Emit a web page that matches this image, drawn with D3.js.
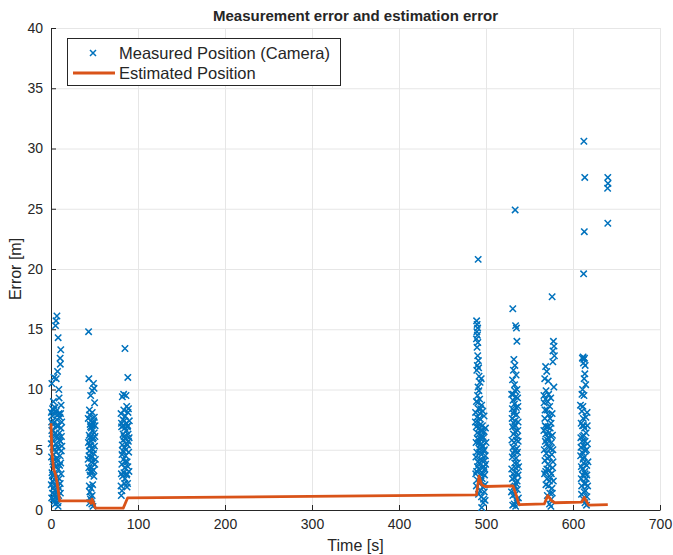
<!DOCTYPE html>
<html>
<head>
<meta charset="utf-8">
<script src="https://cdn.jsdelivr.net/npm/d3@7"></script>
<style>
  body { margin: 0; background: #fff; }
  text { font-family: "Liberation Sans", Arial, Helvetica, sans-serif; fill: #262626; }
</style>
</head>
<body>
<div id="chart"></div>
<script>
  var width = 673;
  var height = 555;

  // axis ticks
  var xTicks = [0, 100, 200, 300, 400, 500, 600, 700];
  var yTicks = [0, 5, 10, 15, 20, 25, 30, 35, 40];

  // measured position error [time s, error m]
  var measured1 = [[0.4,8.1],[0.9,6.6],[1.3,7.8],[1.8,8.4],[2.1,5.2],[0.6,4.4],[1.1,3.1],[1.6,2.4],[2.4,1.8],[2.9,2.9],[3.4,1.3],[3.8,0.7],[2.7,3.8],[3.2,6.2],[4.1,7.3],[4.6,8.5],[5.1,6.4],[5.7,4.8],[6.2,3.6],[6.6,2.3],[7.1,1.5],[7.7,0.6],[8.2,0.3],[8.8,1.2],[9.4,2.6],[9.9,3.7],[10.4,4.5],[10.9,5.7],[11.4,6.8],[10.1,7.7],[9.2,8.0],[8.5,6.0],[7.3,5.2],[6.4,7.0],[5.0,2.0],[4.3,1.6],[3.6,4.2],[2.5,0.9],[1.7,1.4],[0.3,2.1],[11.8,4.9],[11.6,3.0],[9.7,1.8],[8.9,5.1],[7.5,4.1],[6.8,7.5],[5.4,5.5],[4.7,3.6],[1.4,5.9],[2.2,7.1],[3.1,8.3],[0.8,1.0],[4.9,0.5],[6.0,1.1],[8.0,2.0],[10.6,2.2],[12.3,7.3],[12.0,6.1],[5.9,8.2],[7.9,7.9],[3.9,5.0],[2.0,4.0],
    [0.2,5.5],[1.9,2.9],[3.0,4.6],[4.4,2.5],[5.3,1.3],[6.3,4.3],[7.0,6.1],[8.4,3.4],[9.6,5.8],[10.8,1.4],[11.2,3.9],[12.5,5.3],[0.7,7.3],[2.6,6.6],[4.0,8.0],[5.6,3.0],[6.9,0.9],[8.7,7.0],[9.9,6.4],[11.0,8.0],
    [1.0,10.5],[3.5,11.0],[5.8,15.7],[6.8,16.1],[5.2,15.3],[8.2,14.3],[11.2,13.3],[10.5,12.6],[10.7,12.1],[7.5,11.5],[6.0,10.9],[9.0,10.0],[9.3,9.3],[2.8,9.0],[11.6,8.7]];
  var measured2 = [[43.2,14.8],[43.5,10.9],[45.6,9.5],[48.8,10.5],[49.5,10.1],[50.1,8.9],[47.5,9.9],
    [42.8,7.6],[43.9,6.2],[44.5,7.9],[45.2,5.4],[45.9,4.3],[46.4,6.8],[47.1,3.2],[47.8,5.9],[48.4,7.2],[49.0,4.7],[49.6,6.4],[50.3,3.8],[43.4,3.5],[44.1,4.9],[44.8,2.9],[46.0,7.4],[46.8,5.1],[47.4,8.1],[48.1,3.9],[48.7,6.0],[49.3,2.8],[50.0,5.3],[50.7,7.0],[43.0,5.6],[45.5,6.9],[47.0,4.4],[48.5,5.0],[46.3,3.5],[44.2,8.3],[49.8,7.7],[51.0,4.2],[45.0,7.1],[42.6,4.2],[47.6,6.6],
    [43.7,4.5],[44.9,6.0],[46.1,5.7],[47.3,7.0],[48.9,3.3],[50.5,6.1],[45.3,3.2],[49.1,7.4],[46.6,4.0],[44.3,5.3],
    [44.0,2.0],[44.7,1.5],[45.4,0.9],[46.2,1.8],[46.9,0.5],[47.3,1.2],[48.2,0.3],[45.8,1.1],[47.9,2.1],[44.4,0.6]];
  var measured3 = [[85.0,13.4],[88.3,11.0],[82.0,9.4],[83.5,9.6],[86.2,9.5],[87.0,8.6],[88.5,8.1],
    [80.5,8.0],[81.2,6.9],[81.9,5.4],[82.6,7.5],[83.3,4.2],[84.0,6.1],[84.7,3.5],[85.4,7.8],[86.1,5.0],[86.8,6.6],[87.5,4.0],[88.2,7.0],[88.9,5.7],[89.6,3.2],[80.9,3.0],[81.6,4.6],[82.3,2.8],[83.0,6.3],[83.7,8.3],[84.4,5.2],[85.1,2.6],[85.8,4.5],[86.5,7.2],[87.2,3.0],[87.9,5.4],[88.6,6.3],[89.3,4.8],[90.0,7.4],[84.9,6.8],[82.9,5.8],[86.9,2.9],[81.0,7.2],[89.0,8.4],[83.8,3.1],[85.6,5.9],
    [81.4,3.8],[82.7,4.9],[84.2,7.4],[85.3,4.0],[86.7,5.5],[87.7,6.9],[89.8,6.0],[83.1,7.0],[88.4,3.6],[84.6,2.2],
    [80.5,2.0],[80.8,1.2],[81.5,1.6],[88.0,2.2],[87.4,1.9]];
  var measured4 = [[491.0,20.8],
    [489.2,15.7],[489.8,15.4],[490.4,15.1],[489.5,14.8],[490.1,14.5],[489.0,14.2],[490.6,13.9],[489.7,13.5],
    [490.5,12.8],[491.2,12.4],[490.0,12.0],[489.4,11.6],[491.5,11.8],
    [492.0,11.1],[494.5,10.9],[493.2,10.6],[491.8,9.9],[490.3,9.5],[492.7,9.2],[495.0,8.7],
    [488.0,8.1],[488.8,6.9],[489.6,7.7],[490.4,5.9],[491.2,8.4],[492.0,6.3],[492.8,4.8],[493.6,7.1],[494.4,5.5],[495.2,6.6],[496.0,4.1],[496.8,5.3],[497.6,3.6],[498.4,2.9],[499.2,4.5],[488.4,4.4],[489.2,3.2],[490.0,2.5],[490.8,4.0],[491.6,3.4],[492.4,2.2],[493.2,1.6],[494.0,3.0],[494.8,1.1],[495.6,2.6],[496.4,1.9],[497.2,0.9],[498.0,1.5],[498.8,2.1],[499.6,3.8],[488.6,5.6],[489.9,6.4],[491.0,7.3],[492.3,5.1],[493.5,4.2],[494.7,6.1],[495.9,7.0],[497.0,6.0],[498.2,5.0],[499.4,6.8],[487.8,7.3],[490.7,8.9],[493.0,8.0],[496.3,8.2],[497.8,7.8],[495.3,3.5],[492.6,7.6],[494.2,2.4],[491.4,1.3],[496.9,0.6],[495.0,0.2],[493.8,5.9],[490.2,3.6],[488.9,2.0],[499.0,0.8],[497.4,4.9],
    [489.0,9.0],[490.9,10.2],[491.9,6.8],[493.4,5.4],[494.9,4.6],[496.5,3.0],[498.5,4.1],[489.5,4.8],[491.7,5.6],[493.9,8.4],[495.6,5.3],[497.9,6.5],[500.0,5.6],[488.2,3.0],[492.1,3.9],[494.1,6.6],[496.1,6.1],[498.6,3.4]];
  var measured5 = [[533.5,24.9],[530.8,16.7],[534.0,15.3],[535.0,15.1],[535.5,14.0],
    [532.0,12.5],[533.2,12.0],[531.5,11.6],[534.6,11.2],[530.5,10.8],[532.8,10.4],[535.6,10.0],
    [529.5,9.6],[530.3,8.4],[531.1,9.1],[531.9,7.2],[532.7,8.8],[533.5,6.5],[534.3,9.4],[535.1,7.9],[535.9,6.1],[536.7,8.6],[529.8,5.8],[530.6,6.9],[531.4,4.7],[532.2,5.6],[533.0,3.9],[533.8,5.0],[534.6,4.3],[535.4,3.1],[536.2,4.8],[537.0,5.7],[529.6,3.4],[530.4,2.6],[531.2,3.0],[532.0,1.9],[532.8,2.7],[533.6,1.3],[534.4,2.2],[535.2,0.8],[536.0,1.7],[536.8,2.9],[530.0,7.6],[531.8,8.0],[533.3,7.4],[534.9,5.8],[536.5,6.6],[537.5,3.6],[530.9,1.2],[532.5,0.5],[534.1,0.3],[535.7,0.6],[533.1,9.9],[531.0,5.2],[536.3,9.3],[529.3,1.5],[537.2,1.0],
    [530.2,4.4],[531.6,6.3],[532.4,8.2],[533.9,7.0],[535.3,5.1],[536.9,7.3],[531.3,9.6],[534.0,3.5],[535.8,2.4],[530.7,0.4],[532.9,4.9],[534.7,8.5],[536.1,3.9],[533.4,2.0]];
  var measured6 = [[576.0,17.7],[577.5,14.0],[578.2,13.6],[577.0,13.2],[578.6,12.8],[576.8,12.3],
    [568.5,11.9],[569.8,11.5],[567.5,10.9],[571.5,10.7],[578.0,10.2],[569.0,9.9],[566.6,9.5],
    [566.8,8.9],[567.6,7.6],[568.4,9.2],[569.2,6.9],[570.0,8.3],[570.8,5.8],[571.6,7.9],[572.4,6.4],[573.2,8.6],[574.0,5.1],[574.8,7.2],[575.6,4.6],[576.4,6.2],[567.0,5.0],[567.8,4.1],[568.6,3.2],[569.4,4.7],[570.2,2.6],[571.0,3.8],[571.8,2.0],[572.6,3.3],[573.4,1.4],[574.2,2.7],[575.0,0.9],[575.8,1.8],[576.6,3.5],[577.4,2.4],[566.5,6.6],[568.0,7.0],[569.6,5.5],[571.2,6.0],[572.8,4.4],[574.4,9.3],[576.0,8.0],[573.0,0.5],[574.6,0.3],[570.5,1.2],[568.9,2.1],[572.0,9.6],[575.3,5.6],[577.0,4.0],[567.3,3.0],[573.8,6.8],
    [568.2,5.7],[570.4,4.3],[572.2,5.2],[573.6,7.6],[575.1,3.0],[576.9,5.0],[567.9,8.3],[570.9,9.0],[574.9,6.1],[569.9,3.4],[572.9,2.4],[576.2,1.4],[568.7,6.3],[571.4,6.9]];
  var measured7 = [[612.5,30.6],[613.5,27.6],[613.0,23.1],[612.2,19.6],
    [610.8,12.6],[611.6,12.7],[612.4,12.5],[613.2,12.6],[612.0,12.2],[614.0,12.0],[613.6,11.3],[612.8,10.9],[614.6,10.4],[611.0,10.0],[610.3,9.6],[612.6,9.5],
    [608.6,8.7],[609.4,7.2],[610.2,8.2],[611.0,6.1],[611.8,7.6],[612.6,5.3],[613.4,6.8],[614.2,4.9],[615.0,6.4],[615.8,3.7],[616.6,5.5],[608.8,4.5],[609.6,3.6],[610.4,4.8],[611.2,2.9],[612.0,3.9],[612.8,2.2],[613.6,3.2],[614.4,1.6],[615.2,2.6],[616.0,1.1],[616.8,2.0],[609.0,6.0],[610.0,2.0],[611.5,4.2],[613.0,4.4],[614.8,7.7],[616.2,8.1],[617.2,4.0],[609.8,1.3],[613.8,0.6],[615.5,0.4],[611.8,0.9],[610.6,5.7],[612.2,7.0],[614.0,3.0],
    [609.2,5.2],[610.9,7.0],[612.4,6.2],[613.9,5.7],[615.4,5.0],[616.4,7.0],[611.4,8.6],[614.6,2.2],[609.5,2.6],[612.9,1.5],[615.9,2.9],[610.7,3.4]];
  var measured8 = [[640.0,27.6],[640.2,27.1],[639.8,26.7],[640.0,23.8]];

  // estimated position error [time s, error m]
  var estimated = [[0,7.2],[1,4.8],[3,3.4],[5,3.0],[7,2.3],[10,0.75],[44,0.75],[46,0.55],[47,0.9],[49,0.6],[51,0.15],[83,0.15],[88,1.0],
    [489,1.25],[492,2.8],[495,2.1],[499,1.95],[531,2.0],[534,1.4],[538,0.45],[567,0.5],[571,1.2],[575,0.8],[579,0.6],[610,0.65],[613,1.05],[618,0.4],[640,0.45]];

  var measured = [].concat(measured1, measured2, measured3, measured4, measured5, measured6, measured7, measured8);

  var padL = 51, padR = 660, padT = 28, padB = 510;
  var blue = "#0072BD", orange = "#D95319";

  var x = d3.scaleLinear().domain([0, 700]).range([padL, padR]);
  var y = d3.scaleLinear().domain([0, 40]).range([padB, padT]);

  var svg = d3.select("#chart")
              .append("svg")
              .attr("width", width)
              .attr("height", height);

  // grid
  svg.append("g").selectAll("line")
     .data(xTicks).enter().append("line")
     .attr("x1", function(d){ return x(d) + 0.5; }).attr("x2", function(d){ return x(d) + 0.5; })
     .attr("y1", padT).attr("y2", padB)
     .style("stroke", "#e6e6e6").style("stroke-width", 1);
  svg.append("g").selectAll("line")
     .data(yTicks).enter().append("line")
     .attr("y1", function(d){ return y(d) + 0.5; }).attr("y2", function(d){ return y(d) + 0.5; })
     .attr("x1", padL).attr("x2", padR)
     .style("stroke", "#e6e6e6").style("stroke-width", 1);

  // axes, ticks pointing inward like matlab
  var xAxis = svg.append("g")
     .attr("transform", "translate(0," + padB + ")")
     .call(d3.axisBottom(x).tickValues(xTicks).tickSizeInner(-5).tickSizeOuter(0).tickPadding(9));
  var yAxis = svg.append("g")
     .attr("transform", "translate(" + padL + ",0)")
     .call(d3.axisLeft(y).tickValues(yTicks).tickSizeInner(-5).tickSizeOuter(0).tickPadding(8));
  [xAxis, yAxis].forEach(function(a){
    a.select(".domain").style("stroke", "#262626");
    a.selectAll(".tick line").style("stroke", "#262626");
    a.selectAll("text").style("font-size", "14px").style("font-family", "'Liberation Sans', Arial, sans-serif").attr("fill", "#262626");
  });

  // measured points as x markers
  var xs = 3.2;
  svg.append("g").selectAll("path")
     .data(measured).enter().append("path")
     .attr("d", function(d){
       var cx = x(d[0]), cy = y(d[1]);
       return "M" + (cx - xs) + "," + (cy - xs) + "L" + (cx + xs) + "," + (cy + xs) +
              "M" + (cx - xs) + "," + (cy + xs) + "L" + (cx + xs) + "," + (cy - xs);
     })
     .style("stroke", blue).style("stroke-width", 1.5).style("fill", "none");

  // estimated line
  var line = d3.line().x(function(d){ return x(d[0]); }).y(function(d){ return y(d[1]); });
  svg.append("path")
     .datum(estimated)
     .attr("d", line)
     .style("fill", "none").style("stroke", orange).style("stroke-width", 2.8)
     .style("stroke-linejoin", "round");

  // title and labels
  svg.append("text").attr("x", (padL + padR) / 2).attr("y", 21)
     .attr("text-anchor", "middle").style("font-size", "15px").style("font-weight", "bold")
     .text("Measurement error and estimation error");
  svg.append("text").attr("x", (padL + padR) / 2).attr("y", 551)
     .attr("text-anchor", "middle").style("font-size", "16px")
     .text("Time [s]");
  svg.append("text").attr("transform", "translate(21," + ((padT + padB) / 2) + ") rotate(-90)")
     .attr("text-anchor", "middle").style("font-size", "16px")
     .text("Error [m]");

  // legend
  var lg = svg.append("g");
  lg.append("rect").attr("x", 67.5).attr("y", 38.5).attr("width", 273).attr("height", 47)
    .style("fill", "#fff").style("stroke", "#262626").style("stroke-width", 1);
  lg.append("path")
    .attr("d", "M" + (93 - 3) + "," + (53 - 3) + "L" + (93 + 3) + "," + (53 + 3) +
               "M" + (93 - 3) + "," + (53 + 3) + "L" + (93 + 3) + "," + (53 - 3))
    .style("stroke", blue).style("stroke-width", 1.5);
  lg.append("line").attr("x1", 73).attr("x2", 115).attr("y1", 73).attr("y2", 73)
    .style("stroke", orange).style("stroke-width", 2.8);
  lg.append("text").attr("x", 119).attr("y", 59).style("font-size", "16.5px").text("Measured Position (Camera)");
  lg.append("text").attr("x", 119).attr("y", 79).style("font-size", "16.5px").text("Estimated Position");
</script>
</body>
</html>
